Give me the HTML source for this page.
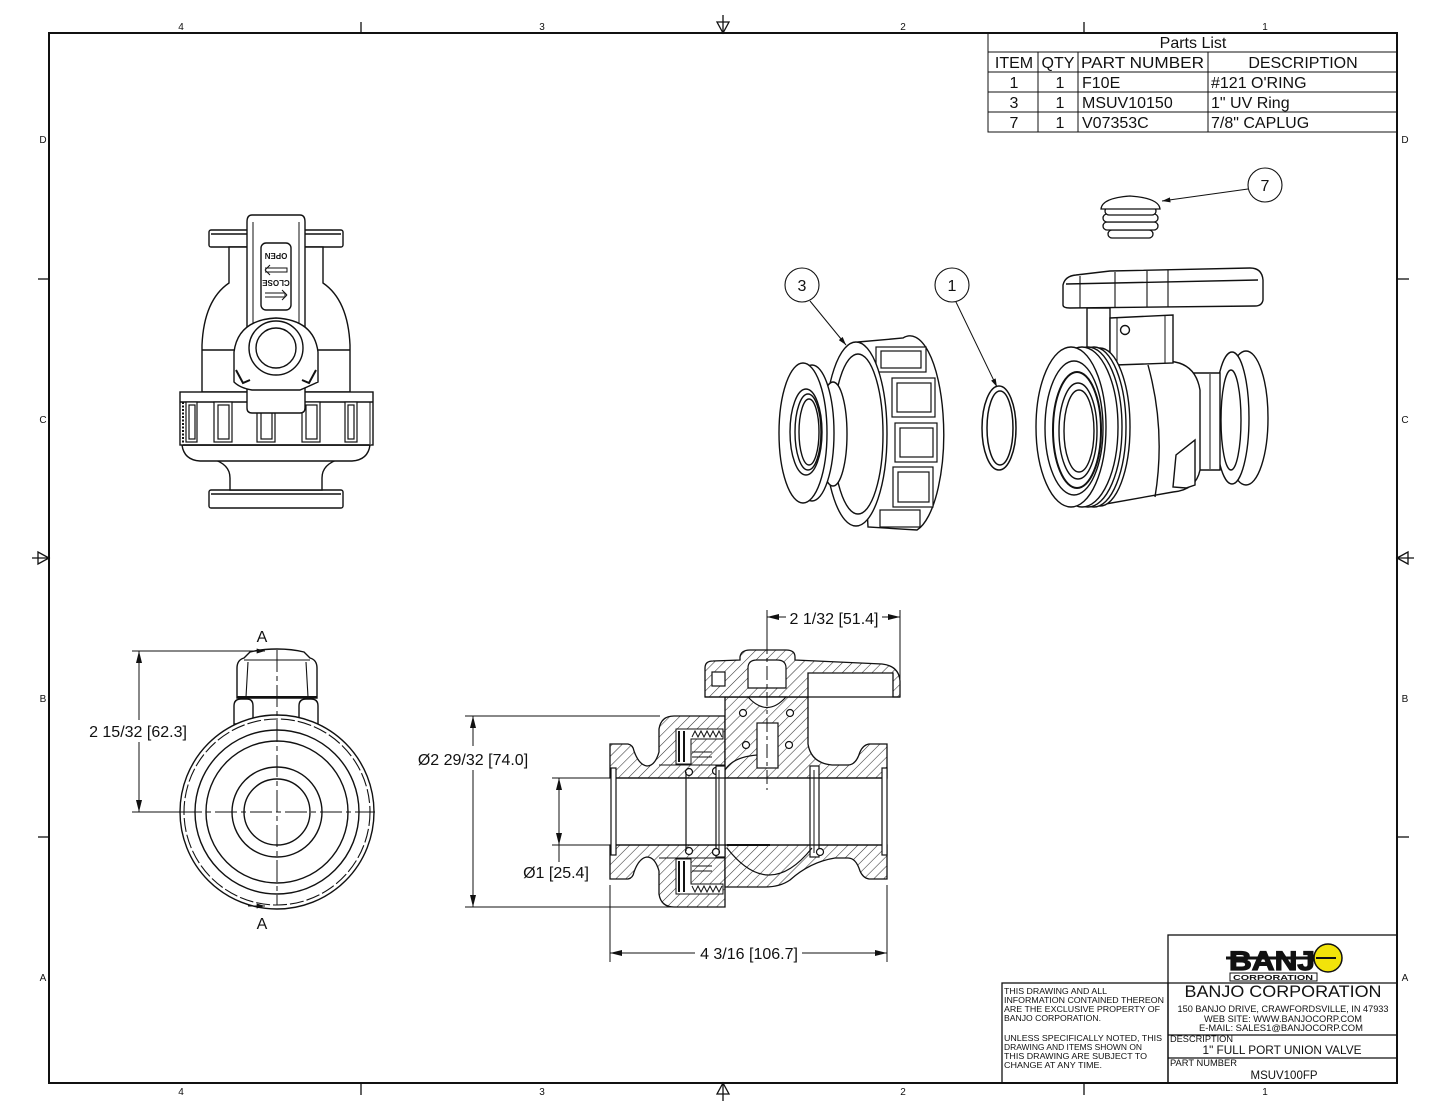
<!DOCTYPE html>
<html><head><meta charset="utf-8"><style>
html,body{margin:0;padding:0;background:#fff;}
svg{display:block;}
text{font-family:"Liberation Sans",Arial,sans-serif;fill:#111;}
</style></head><body>
<svg width="1445" height="1117" viewBox="0 0 1445 1117" xmlns="http://www.w3.org/2000/svg">
<defs>
<pattern id="h" patternUnits="userSpaceOnUse" width="7" height="7" patternTransform="rotate(45)"><rect width="7" height="7" fill="#fff"/><line x1="0" y1="0" x2="0" y2="7" stroke="#333" stroke-width="1.1"/></pattern>
<pattern id="h2" patternUnits="userSpaceOnUse" width="7" height="7" patternTransform="rotate(-45)"><rect width="7" height="7" fill="#fff"/><line x1="0" y1="0" x2="0" y2="7" stroke="#333" stroke-width="1.1"/></pattern>
<g id="tl">
<path d="M610,744 L628,744 Q633,745 634,751 Q639,765 647,766 Q655,766 659,752 L659,729 Q661,716 674,716 L725,716 L725,778 L610,778 Z" stroke="#111" stroke-width="1.3"/>
<path d="M676,729 L723,729 L723,739 L691,739 L691,764 L676,764 Z" fill="#fff" stroke="#111" stroke-width="1"/>
<line x1="679" y1="731" x2="679" y2="762" stroke="#111" stroke-width="2"/>
<line x1="684" y1="731" x2="684" y2="762" stroke="#111" stroke-width="2"/>
<polyline points="692,737 695,731 698,737 701,731 704,737 707,731 710,737 713,731 716,737 719,731 722,737" fill="none" stroke="#111" stroke-width="1"/>
<line x1="659" y1="765" x2="725" y2="765" stroke="#111" stroke-width="1"/>
<line x1="692" y1="752" x2="712" y2="752" stroke="#111" stroke-width="1"/>
<line x1="692" y1="757" x2="712" y2="757" stroke="#111" stroke-width="1"/>
<circle cx="689" cy="772" r="3.5" fill="#fff" stroke="#111" stroke-width="1.2"/>
<circle cx="716" cy="771" r="3.5" fill="#fff" stroke="#111" stroke-width="1.2"/>
<circle cx="820" cy="771" r="3.5" fill="#fff" stroke="#111" stroke-width="1.2"/>
</g>
<marker id="ar" viewBox="0 0 12 6" refX="12" refY="3" markerWidth="12" markerHeight="6" markerUnits="userSpaceOnUse" orient="auto"><path d="M0,0 L12,3 L0,6 Z" fill="#111"/></marker>
<marker id="ar2" viewBox="0 0 10 6" refX="10" refY="3" markerWidth="9" markerHeight="5" markerUnits="userSpaceOnUse" orient="auto"><path d="M0,0 L10,3 L0,6 Z" fill="#111"/></marker>
</defs>

<!-- FRAME -->
<rect x="49" y="33" width="1348" height="1050" fill="none" stroke="#111" stroke-width="2"/>
<g stroke="#111" stroke-width="1.3" fill="none">
<line x1="361" y1="22" x2="361" y2="33"/><line x1="1084" y1="22" x2="1084" y2="33"/>
<line x1="361" y1="1083" x2="361" y2="1095"/><line x1="1084" y1="1083" x2="1084" y2="1095"/>
<line x1="38" y1="279" x2="49" y2="279"/><line x1="38" y1="837" x2="49" y2="837"/>
<line x1="1397" y1="279" x2="1409" y2="279"/><line x1="1397" y1="837" x2="1409" y2="837"/>
<line x1="723" y1="15" x2="723" y2="33"/><path d="M717,22 L729,22 L723,33 Z"/>
<line x1="723" y1="1083" x2="723" y2="1101"/><path d="M717,1094 L729,1094 L723,1083 Z"/>
<line x1="32" y1="558" x2="49" y2="558"/><path d="M38,552 L38,564 L49,558 Z"/>
<line x1="1397" y1="558" x2="1414" y2="558"/><path d="M1408,552 L1408,564 L1397,558 Z"/>
</g>
<g font-size="10" text-anchor="middle">
<text x="181" y="30">4</text><text x="542" y="30">3</text><text x="903" y="30">2</text><text x="1265" y="30">1</text>
<text x="181" y="1095">4</text><text x="542" y="1095">3</text><text x="903" y="1095">2</text><text x="1265" y="1095">1</text>
<text x="43" y="143">D</text><text x="43" y="423">C</text><text x="43" y="702">B</text><text x="43" y="981">A</text>
<text x="1405" y="143">D</text><text x="1405" y="423">C</text><text x="1405" y="702">B</text><text x="1405" y="981">A</text>
</g>

<!-- PARTS LIST -->
<g stroke="#111" stroke-width="1" fill="none">
<rect x="988" y="33" width="409" height="99"/>
<line x1="988" y1="52" x2="1397" y2="52"/><line x1="988" y1="72" x2="1397" y2="72"/>
<line x1="988" y1="92" x2="1397" y2="92"/><line x1="988" y1="112" x2="1397" y2="112"/>
<line x1="1038" y1="52" x2="1038" y2="132"/><line x1="1078" y1="52" x2="1078" y2="132"/><line x1="1208" y1="52" x2="1208" y2="132"/>
</g>
<g font-size="16">
<text x="1193" y="48" text-anchor="middle">Parts List</text>
<text x="1014" y="68" text-anchor="middle">ITEM</text>
<text x="1058" y="68" text-anchor="middle">QTY</text>
<text x="1081" y="68" textLength="123" lengthAdjust="spacingAndGlyphs">PART NUMBER</text>
<text x="1303" y="68" text-anchor="middle">DESCRIPTION</text>
<text x="1014" y="88" text-anchor="middle">1</text><text x="1060" y="88" text-anchor="middle">1</text><text x="1082" y="88">F10E</text><text x="1211" y="88">#121 O'RING</text>
<text x="1014" y="108" text-anchor="middle">3</text><text x="1060" y="108" text-anchor="middle">1</text><text x="1082" y="108">MSUV10150</text><text x="1211" y="108">1" UV Ring</text>
<text x="1014" y="128" text-anchor="middle">7</text><text x="1060" y="128" text-anchor="middle">1</text><text x="1082" y="128">V07353C</text><text x="1211" y="128">7/8" CAPLUG</text>
</g>

<!-- TITLE BLOCK -->
<g stroke="#111" stroke-width="1.3" fill="none">
<rect x="1168" y="935" width="229" height="148"/>
<rect x="1002" y="983" width="166" height="100"/>
<line x1="1168" y1="983" x2="1397" y2="983"/>
<line x1="1168" y1="1035" x2="1397" y2="1035"/>
<line x1="1168" y1="1058" x2="1397" y2="1058"/>
</g>
<!-- logo -->
<line x1="1226" y1="958" x2="1340" y2="958" stroke="#111" stroke-width="3"/>
<text x="1229" y="970" font-size="27" font-weight="bold" fill="#f2e30a" stroke="#111" stroke-width="1.2" textLength="86" lengthAdjust="spacingAndGlyphs">BANJ</text>
<circle cx="1328" cy="958" r="14" fill="#f2e30a" stroke="#111" stroke-width="1.5"/>
<line x1="1316" y1="958" x2="1336" y2="958" stroke="#111" stroke-width="2"/>
<rect x="1230" y="973" width="87" height="8" fill="#fff" stroke="#111" stroke-width="1"/>
<text x="1273" y="980" font-size="7" font-weight="bold" text-anchor="middle" textLength="80" lengthAdjust="spacingAndGlyphs">CORPORATION</text>
<text x="1283" y="997" font-size="17" text-anchor="middle" textLength="197" lengthAdjust="spacingAndGlyphs">BANJO CORPORATION</text>
<g font-size="9" text-anchor="middle">
<text x="1283" y="1012" textLength="211" lengthAdjust="spacingAndGlyphs">150 BANJO DRIVE, CRAWFORDSVILLE, IN 47933</text>
<text x="1283" y="1022" textLength="158" lengthAdjust="spacingAndGlyphs">WEB SITE: WWW.BANJOCORP.COM</text>
<text x="1281" y="1031" textLength="164" lengthAdjust="spacingAndGlyphs">E-MAIL: SALES1@BANJOCORP.COM</text>
</g>
<text x="1170" y="1042" font-size="9" textLength="63" lengthAdjust="spacingAndGlyphs">DESCRIPTION</text>
<text x="1282" y="1054" font-size="12" text-anchor="middle" textLength="159" lengthAdjust="spacingAndGlyphs">1" FULL PORT UNION VALVE</text>
<text x="1170" y="1066" font-size="9" textLength="67" lengthAdjust="spacingAndGlyphs">PART NUMBER</text>
<text x="1284" y="1079" font-size="12" text-anchor="middle" textLength="67" lengthAdjust="spacingAndGlyphs">MSUV100FP</text>
<g font-size="8.5">
<text x="1004" y="994" textLength="103" lengthAdjust="spacingAndGlyphs">THIS DRAWING AND ALL</text>
<text x="1004" y="1003" textLength="160" lengthAdjust="spacingAndGlyphs">INFORMATION CONTAINED THEREON</text>
<text x="1004" y="1012" textLength="156" lengthAdjust="spacingAndGlyphs">ARE THE EXCLUSIVE PROPERTY OF</text>
<text x="1004" y="1021" textLength="97" lengthAdjust="spacingAndGlyphs">BANJO CORPORATION.</text>
<text x="1004" y="1041" textLength="158" lengthAdjust="spacingAndGlyphs">UNLESS SPECIFICALLY NOTED, THIS</text>
<text x="1004" y="1050" textLength="138" lengthAdjust="spacingAndGlyphs">DRAWING AND ITEMS SHOWN ON</text>
<text x="1004" y="1059" textLength="143" lengthAdjust="spacingAndGlyphs">THIS DRAWING ARE SUBJECT TO</text>
<text x="1004" y="1068" textLength="98" lengthAdjust="spacingAndGlyphs">CHANGE AT ANY TIME.</text>
</g>

<!-- FRONT VIEW (top-left) -->
<g stroke="#111" stroke-width="1.4" fill="#fff">
<rect x="209" y="230" width="134" height="17" rx="2"/>
<line x1="211" y1="234" x2="341" y2="234"/>
<path d="M229,247 L229,283 Q204,300 202,345 L202,392 L350,392 L350,345 Q348,300 323,283 L323,247 Z"/>
<line x1="202" y1="350" x2="350" y2="350"/>
<rect x="209" y="490" width="134" height="18" rx="2"/>
<line x1="211" y1="494" x2="341" y2="494"/>
<path d="M212,459 Q230,464 230,478 L230,490 L322,490 L322,478 Q322,464 340,459 Z"/>
<path d="M182,445 Q184,460 200,461 L352,461 Q368,460 370,445 Z"/>
<rect x="180" y="392" width="193" height="53"/>
<line x1="180" y1="402" x2="373" y2="402"/>
<line x1="183" y1="445" x2="370" y2="445"/>
<line x1="183" y1="402" x2="183" y2="444" stroke-dasharray="2 1.5" stroke-width="2"/>
<line x1="370" y1="402" x2="370" y2="444" stroke-width="1"/>
<g stroke-width="1.2">
<rect x="186" y="402" width="11" height="40"/><rect x="189" y="405" width="6" height="34"/>
<rect x="214" y="402" width="18" height="40"/><rect x="218" y="405" width="11" height="34"/>
<rect x="257" y="402" width="18" height="40"/><rect x="261" y="405" width="11" height="34"/>
<rect x="302" y="402" width="18" height="40"/><rect x="306" y="405" width="11" height="34"/>
<rect x="345" y="402" width="12" height="40"/><rect x="348" y="405" width="6" height="34"/>
</g>
<path d="M252,215 L300,215 Q305,215 305,222 L305,408 Q305,413 300,413 L252,413 Q247,413 247,408 L247,222 Q247,215 252,215 Z"/>
<line x1="253" y1="222" x2="253" y2="325" stroke-width="1"/>
<line x1="299" y1="222" x2="299" y2="325" stroke-width="1"/>
<path d="M234,382 L234,352 Q238,320 276,318 Q314,320 318,352 L318,382 Q305,388 300,390 L252,390 Q240,388 234,382 Z"/>
<path d="M236,370 L243,383 L250,380 M316,370 L309,383 L302,380" fill="none" stroke-width="2"/>
<circle cx="276" cy="348" r="27"/>
<circle cx="276" cy="348" r="20"/>
<rect x="261" y="243" width="30" height="67" rx="5"/>
</g>
<g font-size="8" font-weight="bold" text-anchor="middle">
<text x="276" y="259" transform="rotate(180 276 256)">OPEN</text>
<text x="276" y="286" transform="rotate(180 276 283)">CLOSE</text>
</g>
<g stroke="#111" stroke-width="1" fill="none">
<path d="M265,268 L287,268 L287,272 L265,272 M265,270 L270,265 M265,270 L270,275"/>
<path d="M265,293 L285,293 L285,297 L265,297 M287,295 L282,290 M287,295 L282,300"/>
</g>

<!-- SIDE VIEW (bottom-left) -->
<g stroke="#111" stroke-width="1.4" fill="#fff">
<path d="M234,724 L234,706 Q234,699 241,699 L247,699 Q253,699 253,706 L253,724 Z"/>
<path d="M299,724 L299,706 Q299,699 306,699 L311,699 Q318,699 318,706 L318,724 Z"/>
<circle cx="277" cy="812" r="97"/>
<circle cx="277" cy="812" r="93" fill="none" stroke-dasharray="14 3" stroke-width="1.1"/>
<circle cx="277" cy="812" r="82"/>
<circle cx="277" cy="812" r="71"/>
<circle cx="277" cy="812" r="45"/>
<circle cx="277" cy="812" r="33"/>
<path d="M237,698 L237,668 Q237,660 244,658 L250,652 Q262,649 277,649 Q292,649 304,652 L310,658 Q317,660 317,668 L317,698 Z"/>
<path d="M246,697 L248,662 M308,697 L306,662 M244,660 L310,660" fill="none" stroke-width="1.1"/>
<rect x="237" y="696" width="80" height="2.5" fill="#111" stroke="none"/>
</g>
<g stroke="#111" stroke-width="1" fill="none">
<line x1="277" y1="650" x2="277" y2="905" stroke-dasharray="22 4 5 4"/>
<line x1="180" y1="812" x2="375" y2="812" stroke-dasharray="22 4 5 4"/>
<line x1="132" y1="651" x2="252" y2="651"/>
<line x1="132" y1="812" x2="180" y2="812"/>
<line x1="248" y1="651" x2="265" y2="651" marker-end="url(#ar2)"/>
<line x1="248" y1="906" x2="265" y2="906" marker-end="url(#ar2)"/>
<line x1="139" y1="720" x2="139" y2="651" marker-end="url(#ar)"/>
<line x1="139" y1="742" x2="139" y2="812" marker-end="url(#ar)"/>
</g>
<text x="138" y="737" font-size="16" text-anchor="middle">2 15/32 [62.3]</text>
<text x="262" y="642" font-size="16" text-anchor="middle">A</text>
<text x="262" y="929" font-size="16" text-anchor="middle">A</text>

<!-- SECTION VIEW -->
<rect x="616" y="778" width="266" height="67" fill="#fff"/>
<use href="#tl" fill="url(#h)"/>
<g transform="translate(0,1623) scale(1,-1)"><use href="#tl" fill="url(#h2)"/></g>
<g stroke="#111" stroke-width="1.3">
<path d="M725,697 L808,697 L808,744 Q811,763 832,765 L848,765 Q856,765 860,752 Q863,745 869,744 L887,744 L887,778 L725,778 Z" fill="url(#h)"/>
<path d="M725,845 L887,845 L887,879 L869,879 Q863,878 860,871 Q856,858 848,858 L835,858 Q810,862 790,880 Q780,887 765,887 L725,887 Z" fill="url(#h)"/>
<path d="M705,697 L705,668 Q705,661 713,661 L740,660 L740,657 Q741,650 750,650 L786,650 Q795,650 795,657 L795,660 L882,664 Q899,666 900,681 L900,697 L893,697 L893,673 L808,673 L808,697 Z" fill="url(#h)"/>
</g>
<g stroke="#111" stroke-width="1.2" fill="#fff">
<rect x="712" y="672" width="13" height="14"/>
<path d="M748,688 L748,668 Q748,660 757,660 L777,660 Q786,660 786,668 L786,688 Z"/>
<path d="M748,697 Q767,718 786,697 Z"/>
<rect x="757" y="723" width="21" height="45"/>
<rect x="611" y="768" width="5" height="87"/>
<rect x="882" y="768" width="5" height="87"/>
<rect x="716" y="766" width="9" height="91"/>
<rect x="810" y="766" width="9" height="91"/>
<circle cx="743" cy="713" r="3.5"/><circle cx="790" cy="713" r="3.5"/>
<circle cx="746" cy="745" r="3.5"/><circle cx="789" cy="745" r="3.5"/>
<circle cx="716" cy="852" r="3.5"/><circle cx="820" cy="852" r="3.5"/>
</g>
<g stroke="#111" stroke-width="1.2" fill="none">
<line x1="705" y1="697" x2="900" y2="697"/>
<path d="M727,848 Q769,902 812,848"/>
<path d="M725,770 Q733,757 757,755"/>
<line x1="616" y1="778" x2="882" y2="778"/>
<line x1="616" y1="845" x2="882" y2="845"/>
<line x1="686" y1="772" x2="686" y2="851"/>
<line x1="727" y1="845" x2="770" y2="845" stroke-width="2"/>
<line x1="719" y1="770" x2="719" y2="853" stroke-width="1"/>
<line x1="814" y1="770" x2="814" y2="853" stroke-width="1"/>
<line x1="767" y1="640" x2="767" y2="790" stroke-dasharray="14 4 4 4" stroke-width="1"/>
</g>
<!-- section dims -->
<g stroke="#111" stroke-width="1" fill="none">
<line x1="767" y1="610" x2="767" y2="640"/>
<line x1="900" y1="610" x2="900" y2="697"/>
<line x1="786" y1="617" x2="767" y2="617" marker-end="url(#ar)"/>
<line x1="882" y1="617" x2="900" y2="617" marker-end="url(#ar)"/>
<line x1="465" y1="716" x2="660" y2="716"/>
<line x1="465" y1="907" x2="720" y2="907"/>
<line x1="473" y1="746" x2="473" y2="716" marker-end="url(#ar)"/>
<line x1="473" y1="770" x2="473" y2="907" marker-end="url(#ar)"/>
<line x1="552" y1="778" x2="610" y2="778"/>
<line x1="552" y1="845" x2="610" y2="845"/>
<line x1="559" y1="812" x2="559" y2="778" marker-end="url(#ar)"/>
<line x1="559" y1="812" x2="559" y2="845" marker-end="url(#ar)"/>
<line x1="559" y1="845" x2="559" y2="862"/>
<line x1="610" y1="885" x2="610" y2="962"/>
<line x1="887" y1="885" x2="887" y2="962"/>
<line x1="695" y1="953" x2="610" y2="953" marker-end="url(#ar)"/>
<line x1="802" y1="953" x2="887" y2="953" marker-end="url(#ar)"/>
</g>
<g font-size="16" text-anchor="middle">
<text x="834" y="624">2 1/32 [51.4]</text>
<text x="473" y="765">Ø2 29/32 [74.0]</text>
<text x="556" y="878">Ø1 [25.4]</text>
<text x="749" y="959">4 3/16 [106.7]</text>
</g>

<!-- ISOMETRIC: UV RING (3) -->
<g stroke="#111" stroke-width="1.4" fill="#fff">
<path d="M858,342 L903,338 A33,96 0 0 1 917,530 L868,527 Z"/>
<g stroke-width="1.2">
<rect x="876" y="347" width="50" height="25"/><rect x="881" y="351" width="40" height="17"/>
<rect x="892" y="378" width="43" height="39"/><rect x="897" y="383" width="34" height="29"/>
<rect x="895" y="423" width="42" height="39"/><rect x="900" y="428" width="33" height="29"/>
<rect x="893" y="467" width="40" height="40"/><rect x="898" y="472" width="31" height="30"/>
<rect x="880" y="510" width="40" height="17"/>
</g>
<ellipse cx="856" cy="434" rx="31" ry="92"/>
<ellipse cx="858" cy="434" rx="25" ry="80" fill="none"/>
<ellipse cx="833" cy="434" rx="14" ry="52"/>
<ellipse cx="812" cy="433" rx="22" ry="68"/>
<ellipse cx="803" cy="433" rx="24" ry="70"/>
<ellipse cx="806" cy="432" rx="16" ry="43"/>
<ellipse cx="808" cy="432" rx="13" ry="38" fill="none"/>
<ellipse cx="809" cy="432" rx="10" ry="33" fill="none"/>
</g>
<!-- O-RING (1) -->
<g stroke="#111" stroke-width="1.5" fill="none">
<ellipse cx="999" cy="428" rx="17" ry="42"/>
<ellipse cx="1000" cy="428" rx="13" ry="37"/>
</g>
<!-- CAPLUG (7) -->
<g stroke="#111" stroke-width="1.3" fill="#fff">
<rect x="1108" y="230" width="45" height="8" rx="4"/>
<rect x="1103" y="222" width="55" height="8" rx="4"/>
<rect x="1103" y="214" width="55" height="8" rx="4"/>
<rect x="1105" y="207" width="51" height="8" rx="4"/>
<path d="M1101,209 Q1102,198 1130,196 Q1159,198 1160,209 Z"/>
</g>
<!-- VALVE BODY ISO -->
<g stroke="#111" stroke-width="1.4" fill="#fff">
<ellipse cx="1246" cy="418" rx="22" ry="67"/>
<ellipse cx="1232" cy="418" rx="17" ry="66"/>
<ellipse cx="1231" cy="420" rx="10" ry="50" fill="none"/>
<path d="M1193,373 L1220,373 L1220,470 L1193,470 Z"/>
<line x1="1210" y1="374" x2="1210" y2="469" stroke-width="1"/>
<path d="M1080,348 L1175,362 Q1196,366 1200,390 L1200,470 Q1196,490 1173,492 L1100,505 Z"/>
<path d="M1148,365 Q1166,430 1155,497" fill="none"/>
<path d="M1173,487 L1176,455 L1195,440 L1195,485 L1186,488 Z"/>
<path d="M1087,308 L1110,308 L1110,360 L1087,356 Z"/>
<path d="M1110,318 L1173,315 L1173,363 L1115,365 Q1110,364 1110,358 Z"/>
<line x1="1117" y1="318" x2="1117" y2="364" stroke-width="1"/>
<line x1="1165" y1="316" x2="1165" y2="363" stroke-width="1"/>
<circle cx="1125" cy="330" r="4.5"/>
<ellipse cx="1100" cy="427" rx="30" ry="79"/>
<ellipse cx="1094" cy="427" rx="32" ry="80"/>
<ellipse cx="1088" cy="427" rx="34" ry="80"/>
<ellipse cx="1082" cy="427" rx="36" ry="80"/>
<ellipse cx="1071" cy="427" rx="35" ry="80"/>
<ellipse cx="1074" cy="428" rx="29" ry="67" fill="none"/>
<ellipse cx="1077" cy="430" rx="24" ry="58" fill="none" stroke-width="2"/>
<ellipse cx="1078" cy="431" rx="19" ry="48"/>
<ellipse cx="1079" cy="431" rx="15" ry="41" fill="none"/>
<path d="M1063,305 L1063,285 Q1065,276 1076,275 L1110,271 L1250,268 Q1262,268 1263,280 L1263,300 Q1262,306 1255,306 L1070,308 Q1063,308 1063,305 Z"/>
<path d="M1066,284 L1258,280" fill="none"/>
<path d="M1080,276 L1080,308 M1115,272 L1115,307 M1147,271 L1147,307 M1168,270 L1168,307" fill="none" stroke-width="1.1"/>
</g>
<!-- BALLOONS -->
<g stroke="#111" stroke-width="1.1" fill="#fff">
<circle cx="1265" cy="185" r="17"/>
<circle cx="802" cy="285" r="17"/>
<circle cx="952" cy="285" r="17"/>
</g>
<g stroke="#111" stroke-width="1" fill="none">
<line x1="1248" y1="189" x2="1162" y2="201" marker-end="url(#ar2)"/>
<line x1="810" y1="301" x2="846" y2="345" marker-end="url(#ar2)"/>
<line x1="956" y1="302" x2="997" y2="387" marker-end="url(#ar2)"/>
</g>
<g font-size="16" text-anchor="middle">
<text x="1265" y="191">7</text>
<text x="802" y="291">3</text>
<text x="952" y="291">1</text>
</g>
</svg>
</body></html>
